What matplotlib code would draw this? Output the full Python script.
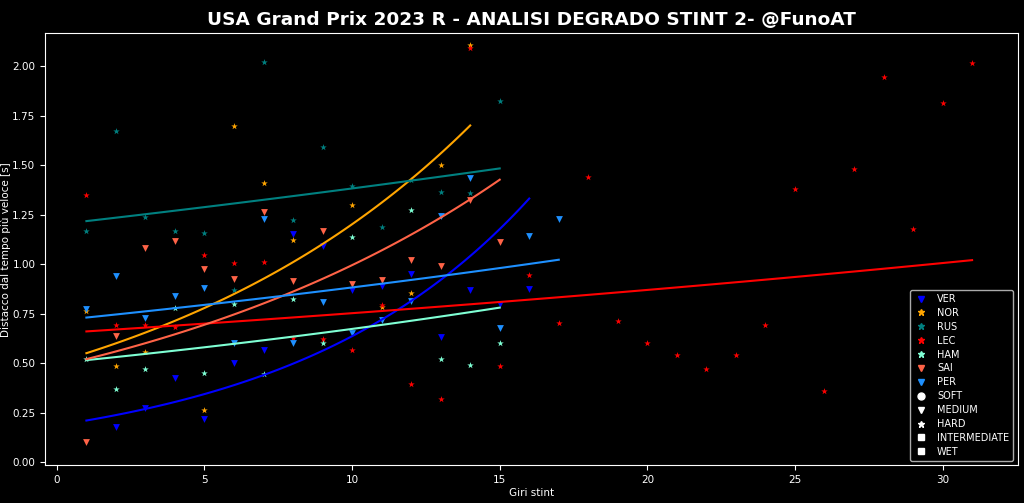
import numpy as np
import matplotlib
matplotlib.use("Agg")
import matplotlib.pyplot as plt
from matplotlib.lines import Line2D

# ---------------- data ----------------
drivers = ["VER", "NOR", "RUS", "LEC", "HAM", "SAI", "PER"]
colors = ["blue", "orange", "teal", "red", "aquamarine", "tomato", "dodgerblue"]
compounds = ["MEDIUM", "HARD", "HARD", "HARD", "HARD", "MEDIUM", "MEDIUM"]

VER_x = [2, 3, 4, 5, 6, 7, 8, 9, 10, 11, 12, 13, 14, 15, 16]
VER_y = [0.178, 0.273, 0.424, 0.216, 0.500, 0.564, 1.150, 1.089, 0.870, 0.887,
         0.951, 0.630, 0.870, 0.800, 0.875]

NOR_x = [1, 2, 3, 5, 6, 7, 8, 10, 11, 12, 13, 14]
NOR_y = [0.764, 0.486, 0.554, 0.263, 1.697, 1.407, 1.121, 1.300, 0.785, 0.852,
         1.502, 2.108]

RUS_x = list(range(1, 16))
RUS_y = [1.168, 1.670, 1.236, 1.168, 1.158, 0.869, 2.022, 1.222, 1.589, 1.392,
         1.189, 1.423, 1.364, 1.357, 1.825]

LEC_x = list(range(1, 32))
LEC_y = [1.347, 0.690, 0.690, 0.680, 1.044, 1.007, 1.013, 0.626, 0.623, 0.566,
         0.791, 0.394, 0.320, 2.091, 0.485, 0.946, 0.704, 1.441, 0.714, 0.599,
         0.542, 0.468, 0.542, 0.693, 1.377, 0.357, 1.481, 1.946, 1.175, 1.812,
         2.017]

HAM_x = [1, 2, 3, 4, 5, 6, 7, 8, 9, 10, 12, 13, 14, 15]
HAM_y = [0.520, 0.367, 0.468, 0.778, 0.448, 0.798, 0.444, 0.825, 0.603, 1.138,
         1.273, 0.519, 0.492, 0.599]

SAI_x = list(range(1, 16))
SAI_y = [0.104, 0.635, 1.081, 1.118, 0.973, 0.926, 1.261, 0.914, 1.168, 0.897,
         0.921, 1.022, 0.988, 1.325, 1.111]

PER_x = list(range(1, 18))
PER_y = [0.774, 0.938, 0.727, 0.838, 0.879, 0.604, 1.227, 0.599, 0.811, 0.652,
         0.719, 0.815, 1.241, 1.434, 0.675, 1.143, 1.227]

# exponential degradation fits y = a * exp(b * lap)
fit_a = [0.1857, 0.5043, 1.2000, 0.6505, 0.5000, 0.4839, 0.7148]
fit_b = [0.1231, 0.0868, 0.01412, 0.01451, 0.02966, 0.07206, 0.02103]

compound_names = ["SOFT", "MEDIUM", "HARD", "INTERMEDIATE", "WET"]
compound_markers = {"SOFT": "o", "MEDIUM": "v", "HARD": "*",
                    "INTERMEDIATE": "s", "WET": "s"}

series_x = [VER_x, NOR_x, RUS_x, LEC_x, HAM_x, SAI_x, PER_x]
series_y = [VER_y, NOR_y, RUS_y, LEC_y, HAM_y, SAI_y, PER_y]

# ---------------- plot ----------------
plt.style.use("dark_background")
plt.rcParams["font.family"] = ["DejaVu Sans"]

fig = plt.figure(figsize=(10.24, 5.03), dpi=100)
ax = fig.add_axes([0.044, 0.0746, 0.950, 0.859])

for i, d in enumerate(drivers):
    x = np.array(series_x[i], dtype=float)
    y = np.array(series_y[i], dtype=float)
    ax.scatter(x, y, marker=compound_markers[compounds[i]], color=colors[i],
               s=24, linewidths=0)
    xs = np.linspace(1, x.max(), 100)
    ax.plot(xs, fit_a[i] * np.exp(fit_b[i] * xs), color=colors[i], lw=1.5)

ax.set_xlim(-0.4, 32.55)
ax.set_ylim(-0.017, 2.165)
ax.tick_params(labelsize=7.5)
ax.set_xlabel("Giri stint", fontsize=7.5, labelpad=2)
ax.set_ylabel("Distacco dal tempo più veloce [s]", fontsize=7.5)
ax.yaxis.set_label_coords(-0.035, 0.5)
ax.set_title("USA Grand Prix 2023 R - ANALISI DEGRADO STINT 2- @FunoAT",
             fontsize=13.3, fontweight="bold", pad=6)

handles = []
for i, d in enumerate(drivers):
    handles.append(Line2D([], [], ls="none", marker=compound_markers[compounds[i]],
                          color=colors[i], markersize=5, label=d))
for cname in compound_names:
    handles.append(Line2D([], [], ls="none", marker=compound_markers[cname],
                          color="white", markersize=5, label=cname))
leg = ax.legend(handles=handles, loc="lower right", fontsize=7,
                facecolor="black", edgecolor="#aaaaaa", framealpha=1,
                labelspacing=0.4, handlelength=1.6, borderaxespad=0.5)

fig.savefig("out.png", dpi=100, facecolor="black")
